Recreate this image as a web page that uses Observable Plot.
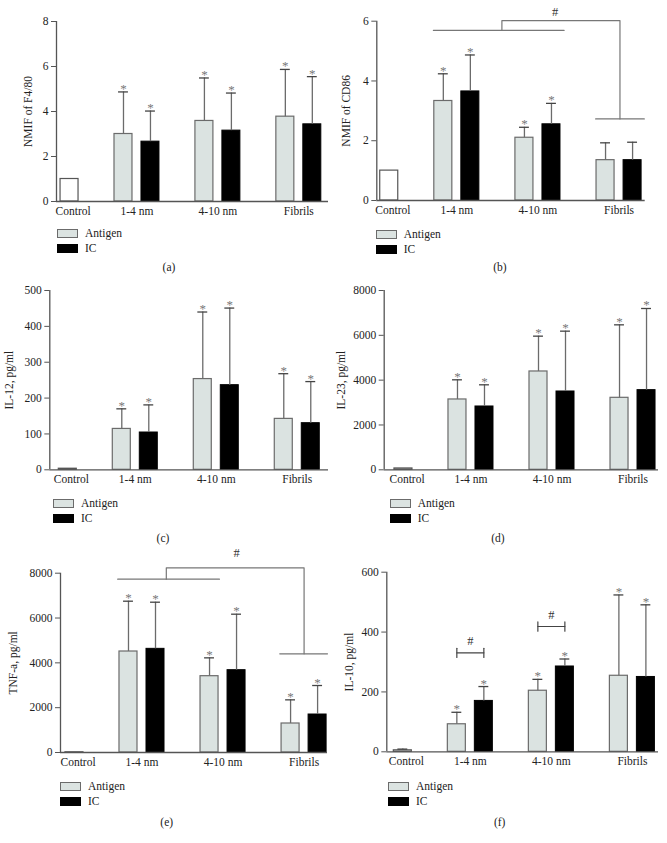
<!DOCTYPE html>
<html>
<head>
<meta charset="utf-8">
<script src="https://cdn.jsdelivr.net/npm/d3@7"></script>
<script src="https://cdn.jsdelivr.net/npm/@observablehq/plot@0.6"></script>
<style>
  body { margin: 0; background: #fff; }
  #page { position: relative; width: 667px; height: 843px; overflow: hidden; font-family: "Liberation Serif", "DejaVu Serif", serif; color: #222; background: #fff; }
  #page svg { position: absolute; }
  .leg { position: absolute; display: flex; align-items: center; height: 9px; font-size: 11.5px; line-height: 11px; white-space: nowrap; }
  .sw { width: 21px; height: 9px; box-sizing: border-box; margin-right: 7px; flex: none; }
  .cap { position: absolute; font-size: 11.5px; line-height: 11px; transform: translate(-50%, -50%); white-space: nowrap; }
</style>
</head>
<body>
<div id="page"></div>
<script>
// ---------- shared categories ----------
const groups = ["Control", "1-4 nm", "4-10 nm", "Fibrils"];
const seriesNames = ["Antigen", "IC"];

// ---------- (a) NMIF of F4/80 ----------
const aLabel = "NMIF of F4/80";
const aTicks = [0, 2, 4, 6, 8];
const aAntigen = [1.0, 3.0, 3.58, 3.77];
const aIC = [null, 2.66, 3.15, 3.43];
const aAntigenErr = [null, 4.87, 5.49, 5.87];
const aICErr = [null, 4.02, 4.82, 5.55];
const aStars = ["1-4 nm", "4-10 nm", "Fibrils"];

// ---------- (b) NMIF of CD86 ----------
const bLabel = "NMIF of CD86";
const bTicks = [0, 2, 4, 6];
const bAntigen = [1.0, 3.33, 2.10, 1.35];
const bIC = [null, 3.65, 2.55, 1.35];
const bAntigenErr = [null, 4.24, 2.45, 1.93];
const bICErr = [null, 4.87, 3.25, 1.95];
const bStars = ["1-4 nm", "4-10 nm"];
const bBrackets = [
  [[5.9, 5.69], [20.4, 5.69]],
  [[13.5, 5.69], [13.5, 6.02], [26.6, 6.02], [26.6, 2.73]],
  [[23.9, 2.73], [29.3, 2.73]]
];
const bHash = [[19.4, 6.3]];

// ---------- (c) IL-12 ----------
const cLabel = "IL-12, pg/ml";
const cTicks = [0, 100, 200, 300, 400, 500];
const cAntigen = [3, 114, 253, 142];
const cIC = [null, 104, 236, 130];
const cAntigenErr = [null, 170, 440, 268];
const cICErr = [null, 181, 451, 246];
const cStars = ["1-4 nm", "4-10 nm", "Fibrils"];

// ---------- (d) IL-23 ----------
const dLabel = "IL-23, pg/ml";
const dTicks = [0, 2000, 4000, 6000, 8000];
const dAntigen = [60, 3138, 4387, 3212];
const dIC = [null, 2825, 3494, 3554];
const dAntigenErr = [null, 4015, 5963, 6468];
const dICErr = [null, 3792, 6186, 7197];
const dStars = ["1-4 nm", "4-10 nm", "Fibrils"];

// ---------- (e) TNF-a ----------
const eLabel = "TNF-a, pg/ml";
const eTicks = [0, 2000, 4000, 6000, 8000];
const eAntigen = [10, 4506, 3405, 1294];
const eIC = [null, 4625, 3673, 1695];
const eAntigenErr = [null, 6751, 4223, 2349];
const eICErr = [null, 6706, 6171, 2989];
const eStars = ["1-4 nm", "4-10 nm", "Fibrils"];
const eBrackets = [
  [[5.8, 7732], [17.1, 7732]],
  [[11.2, 7732], [11.2, 8238], [26.5, 8238], [26.5, 4401]],
  [[23.8, 4401], [29.1, 4401]]
];
const eHash = [[19.0, 8879]];

// ---------- (f) IL-10 ----------
const fLabel = "IL-10, pg/ml";
const fTicks = [0, 200, 400, 600];
const fAntigen = [5, 92, 204, 254];
const fIC = [null, 170, 285, 250];
const fAntigenErr = [9, 132, 242, 524];
const fICErr = [null, 218, 310, 491];
const fStars = ["1-4 nm", "4-10 nm", "Fibrils"];
const fBrackets = [
  [[7, 315], [7, 346]], [[7, 330.6], [10, 330.6]], [[10, 315], [10, 346]],
  [[16, 403], [16, 434]], [[16, 418.6], [19, 418.6]], [[19, 403], [19, 434]]
];
const fHash = [[8.5, 369.6], [17.5, 457.5]];

const captions = ["(a)", "(b)", "(c)", "(d)", "(e)", "(f)"];

// ---------- panel table built from the arrays ----------
const panels = [
  {label: aLabel, ticks: aTicks, ant: aAntigen, ic: aIC, antErr: aAntigenErr, icErr: aICErr, stars: aStars, brackets: [], hash: [], bracketColor: "#777"},
  {label: bLabel, ticks: bTicks, ant: bAntigen, ic: bIC, antErr: bAntigenErr, icErr: bICErr, stars: bStars, brackets: bBrackets, hash: bHash, bracketColor: "#777"},
  {label: cLabel, ticks: cTicks, ant: cAntigen, ic: cIC, antErr: cAntigenErr, icErr: cICErr, stars: cStars, brackets: [], hash: [], bracketColor: "#777"},
  {label: dLabel, ticks: dTicks, ant: dAntigen, ic: dIC, antErr: dAntigenErr, icErr: dICErr, stars: dStars, brackets: [], hash: [], bracketColor: "#777"},
  {label: eLabel, ticks: eTicks, ant: eAntigen, ic: eIC, antErr: eAntigenErr, icErr: eICErr, stars: eStars, brackets: eBrackets, hash: eHash, bracketColor: "#777"},
  {label: fLabel, ticks: fTicks, ant: fAntigen, ic: fIC, antErr: fAntigenErr, icErr: fICErr, stars: fStars, brackets: fBrackets, hash: fHash, bracketColor: "#444"}
];

// ---------- layout (page placement of each panel) ----------
const layout = [
  {left: 0,   top: 0,   width: 333, height: 222, mt: 21,   mb: 21,   ml: 56,   mr: 5,    xd: [-0.45, 29.8],  labelX: 28,   leg: [57, 228.5],  cap: [169, 267]},
  {left: 333, top: 0,   width: 334, height: 222, mt: 20.7, mb: 22,   ml: 43.3, mr: 22.3, xd: [-0.38, 29.4],  labelX: 13,   leg: [375.7, 229.5], cap: [500, 267]},
  {left: 0,   top: 280, width: 333, height: 211, mt: 10,   mb: 21.7, ml: 49.3, mr: 5,    xd: [-1.0, 29.97],  labelX: 8.5,  leg: [53, 498.5],  cap: [163, 538]},
  {left: 333, top: 280, width: 334, height: 211, mt: 10,   mb: 21.7, ml: 50.7, mr: 9,    xd: [-1.14, 29.33], labelX: 8,    leg: [389.7, 498.5], cap: [498, 538]},
  {left: 0,   top: 540, width: 333, height: 234, mt: 32.7, mb: 22,   ml: 60,   mr: 6,    xd: [-0.55, 29.1],  labelX: 13.3, leg: [60, 782],    cap: [166.7, 821.7]},
  {left: 333, top: 560, width: 334, height: 213, mt: 11.7, mb: 21.7, ml: 53.3, mr: 9,    xd: [-0.78, 29.4],  labelX: 16,   leg: [388, 782],   cap: [499.7, 821.7]}
];

// bar slots: a single Control bar, then pairs (Antigen, IC) per group
function slotStart(gi) { return gi === 0 ? 0 : 6 + (gi - 1) * 9; }
function labelPos(gi) { return gi === 0 ? 1.4 : slotStart(gi) + 2.5; }

const ANT_FILL = "#dbe3e1", ANT_STROKE = "#6b6b6b";
const IC_FILL = "#000", CTRL_FILL = "#fff", CTRL_STROKE = "#555";
const AXIS = "#555", ERR = "#6b6b6b";

const page = document.getElementById("page");

panels.forEach((p, k) => {
  const L = layout[k];
  const rows = [];
  groups.forEach((g, gi) => {
    [p.ant, p.ic].forEach((vals, si) => {
      const v = vals[gi];
      if (v == null) return;
      const x1 = slotStart(gi) + si * 3;
      rows.push({
        group: g,
        kind: gi === 0 ? "Control" : seriesNames[si],
        x1, x2: x1 + 2, xc: x1 + 1,
        value: v,
        err: [p.antErr, p.icErr][si][gi],
        star: p.stars.includes(g)
      });
    });
  });
  const errRows = rows.filter(d => d.err != null);
  const bracketPts = p.brackets.flatMap((seg, i) => seg.map(pt => ({x: pt[0], y: pt[1], z: i})));
  const ymax = p.ticks[p.ticks.length - 1];
  const labelMap = new Map(groups.map((g, gi) => [labelPos(gi), g]));

  const chart = Plot.plot({
    width: L.width,
    height: L.height,
    marginTop: L.mt, marginBottom: L.mb, marginLeft: L.ml, marginRight: L.mr,
    x: {type: "linear", domain: L.xd},
    y: {domain: [0, ymax]},
    style: {fontFamily: '"Liberation Serif", "DejaVu Serif", serif', fontSize: "11.5px", color: "#222", background: "transparent", overflow: "visible"},
    marks: [
      Plot.axisY({ticks: p.ticks, tickSize: 5, tickPadding: 3, label: null, stroke: AXIS, fill: "#222", tickFormat: d => String(d)}),
      Plot.axisX({ticks: groups.map((g, gi) => labelPos(gi)), tickFormat: t => labelMap.get(t), tickSize: 0, tickPadding: 5, label: null, fill: "#222"}),
      Plot.rect(rows.filter(d => d.kind === "Control"), {x1: "x1", x2: "x2", y1: 0, y2: "value", fill: CTRL_FILL, stroke: CTRL_STROKE, strokeWidth: 1.2}),
      Plot.rect(rows.filter(d => d.kind === "Antigen"), {x1: "x1", x2: "x2", y1: 0, y2: "value", fill: ANT_FILL, stroke: ANT_STROKE, strokeWidth: 1.2}),
      Plot.rect(rows.filter(d => d.kind === "IC"), {x1: "x1", x2: "x2", y1: 0, y2: "value", fill: IC_FILL, stroke: IC_FILL, strokeWidth: 1}),
      Plot.ruleX(errRows, {x: "xc", y1: "value", y2: "err", stroke: ERR, strokeWidth: 1.3}),
      Plot.ruleY(errRows, {y: "err", x1: d => d.xc - 0.55, x2: d => d.xc + 0.55, stroke: "#444", strokeWidth: 1.3}),
      Plot.text(errRows.filter(d => d.star), {x: "xc", y: "err", text: () => "*", lineAnchor: "bottom", dy: 1, fontSize: 13, fill: "#777"}),
      Plot.line(bracketPts, {x: "x", y: "y", z: "z", stroke: p.bracketColor, strokeWidth: 1.2}),
      Plot.text(p.hash, {x: d => d[0], y: d => d[1], text: () => "#", fontSize: 12.5, fill: "#333", lineAnchor: "middle"}),
      Plot.ruleY([0], {stroke: AXIS, strokeWidth: 1.3}),
      Plot.ruleX([L.xd[0]], {stroke: AXIS, strokeWidth: 1.3}),
      Plot.text([p.label], {text: d => d, frameAnchor: "left", rotate: -90, dx: -(L.ml - L.labelX), textAnchor: "middle", lineAnchor: "middle", fontSize: 11.5, fill: "#222"})
    ]
  });
  chart.style.left = L.left + "px";
  chart.style.top = L.top + "px";
  page.appendChild(chart);

  // legend (vertical swatches)
  [[ANT_FILL, ANT_STROKE, "Antigen"], [IC_FILL, IC_FILL, "IC"]].forEach(([fill, stroke, name], i) => {
    const row = document.createElement("div");
    row.className = "leg";
    row.style.left = L.leg[0] + "px";
    row.style.top = (L.leg[1] + i * 15) + "px";
    const sw = document.createElement("div");
    sw.className = "sw";
    sw.style.background = fill;
    sw.style.border = "1.2px solid " + stroke;
    row.appendChild(sw);
    const t = document.createElement("span");
    t.textContent = name;
    row.appendChild(t);
    page.appendChild(row);
  });

  const cap = document.createElement("div");
  cap.className = "cap";
  cap.style.left = L.cap[0] + "px";
  cap.style.top = L.cap[1] + "px";
  cap.textContent = captions[k];
  page.appendChild(cap);
});
</script>
</body>
</html>
